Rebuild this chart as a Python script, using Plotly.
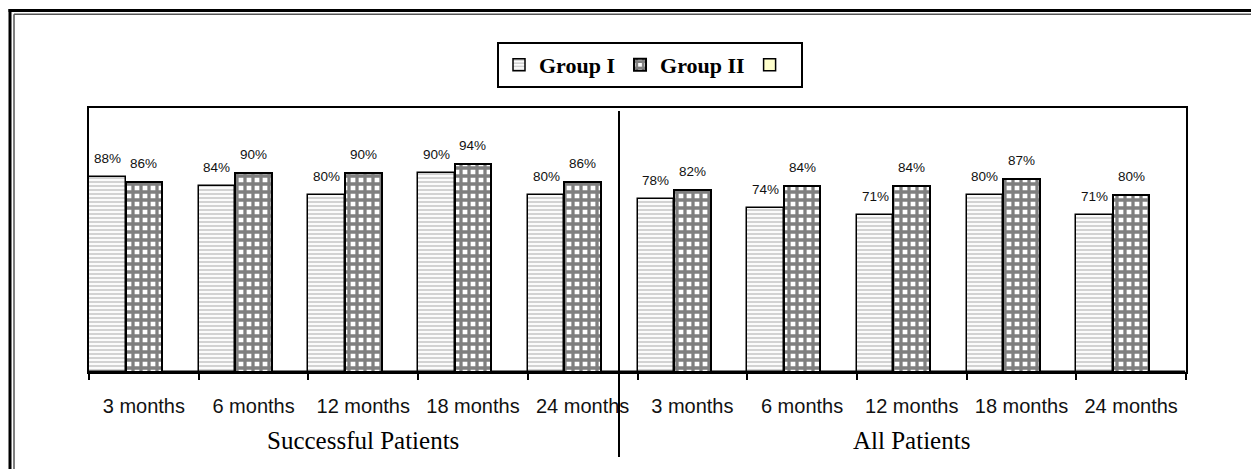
import plotly.graph_objects as go

# Follow-up time points, repeated for each patient population
periods = ["3 months", "6 months", "12 months", "18 months", "24 months"]
populations = ["Successful Patients", "All Patients"]

# Success rates (%) per time point: successful patients first, then all patients
group1 = [88, 84, 80, 90, 80, 78, 74, 71, 80, 71]
group2 = [86, 90, 90, 94, 86, 82, 84, 84, 87, 80]
group3 = [0, 0, 0, 0, 0, 0, 0, 0, 0, 0]

tick_labels = periods * len(populations)
idx = list(range(len(tick_labels)))

# Figure pixel geometry (plot area box)
W, H = 1251, 469
L, R, T, B = 89, 65, 108, 97
PW, PH = W - L - R, H - T - B


def px_x(p):
    return (p - L) / PW


def px_y(p):
    return (H - B - p) / PH


fig = go.Figure()
fig.add_trace(go.Bar(
    x=idx, y=group1, name="Group I",
    marker=dict(color="white", line=dict(color="black", width=1.5),
                pattern=dict(shape="-", fgcolor="#A6A6A6", bgcolor="white",
                             size=4, solidity=0.55)),
))
fig.add_trace(go.Bar(
    x=idx, y=group2, name="Group II",
    marker=dict(color="white", line=dict(color="black", width=2),
                pattern=dict(shape="+", fgcolor="black", bgcolor="white",
                             size=8, solidity=0.65)),
))
fig.add_trace(go.Bar(
    x=idx, y=group3, name=" ",
    marker=dict(color="#FFFFCC", line=dict(color="black", width=1.5)),
))

# Value labels above each bar
n_series = 3
for k, series in enumerate([group1, group2]):
    for i, v in zip(idx, series):
        fig.add_annotation(
            x=i - 0.5 + (k + 0.5) / n_series, y=v, xref="x", yref="y",
            text=f"{v}%", showarrow=False, yanchor="bottom", yshift=9,
            font=dict(family="Liberation Sans, Arial", size=13.5, color="#111111"),
        )

# Population labels under the time-point labels
n_per = len(periods)
for g, name in enumerate(populations):
    fig.add_annotation(
        x=g * n_per + (n_per - 1) / 2, y=px_y(440), xref="x", yref="paper",
        text=name, showarrow=False, yanchor="middle",
        font=dict(family="Liberation Serif, Times New Roman", size=25, color="black"),
    )

shapes = [
    # divider between the two populations
    dict(type="line", xref="paper", yref="paper",
         x0=px_x(619), x1=px_x(619), y0=px_y(111), y1=px_y(457),
         line=dict(color="black", width=2)),
    # outer double frame (left and top edges)
    dict(type="line", xref="paper", yref="paper",
         x0=px_x(10), x1=px_x(10), y0=px_y(H), y1=px_y(9),
         line=dict(color="black", width=3)),
    dict(type="line", xref="paper", yref="paper",
         x0=px_x(8.5), x1=px_x(W), y0=px_y(10.5), y1=px_y(10.5),
         line=dict(color="black", width=3)),
    dict(type="line", xref="paper", yref="paper",
         x0=px_x(14), x1=px_x(14), y0=px_y(H), y1=px_y(14.3),
         line=dict(color="#555555", width=1.5)),
    dict(type="line", xref="paper", yref="paper",
         x0=px_x(14), x1=px_x(W), y0=px_y(14.3), y1=px_y(14.3),
         line=dict(color="#555555", width=1.5)),
]

boundaries = [i - 0.5 for i in range(len(idx) + 1)]

fig.update_layout(
    width=W, height=H,
    margin=dict(l=L, r=R, t=T, b=B),
    paper_bgcolor="white", plot_bgcolor="white",
    barmode="group", bargap=0, bargroupgap=0,
    showlegend=True,
    legend=dict(
        orientation="h", x=px_x(497), xanchor="left", y=px_y(42), yanchor="top",
        bordercolor="black", borderwidth=2, bgcolor="white",
        font=dict(family="Liberation Serif, Times New Roman", size=22, color="black",
                  weight="bold"),
        itemwidth=30, traceorder="normal",
    ),
    xaxis=dict(
        range=[-0.5, len(idx) - 0.5], tickmode="array", tickvals=boundaries,
        ticktext=[""] * len(boundaries), ticks="outside", ticklen=6,
        tickwidth=1.5, tickcolor="black",
        showline=True, linecolor="black", linewidth=2, mirror=True,
        showgrid=False, zeroline=False,
    ),
    xaxis2=dict(
        overlaying="x", anchor="y", side="bottom",
        range=[-0.5, len(idx) - 0.5], tickmode="array", tickvals=idx,
        ticktext=tick_labels, ticks="", showline=False, showgrid=False,
        zeroline=False, ticklabelstandoff=20,
        tickfont=dict(family="Liberation Sans, Arial", size=20, color="#111111"),
    ),
    yaxis=dict(
        range=[0, 119.2], showticklabels=False, ticks="",
        showline=True, linecolor="black", linewidth=2, mirror=True,
        showgrid=False, zeroline=False,
    ),
    shapes=shapes,
)

# invisible trace so the label axis is rendered
fig.add_trace(go.Scatter(x=[0], y=[0], xaxis="x2", yaxis="y", mode="markers",
                         marker=dict(opacity=0), showlegend=False, hoverinfo="skip"))

fig.write_html("out.html", config={"displayModeBar": False})
